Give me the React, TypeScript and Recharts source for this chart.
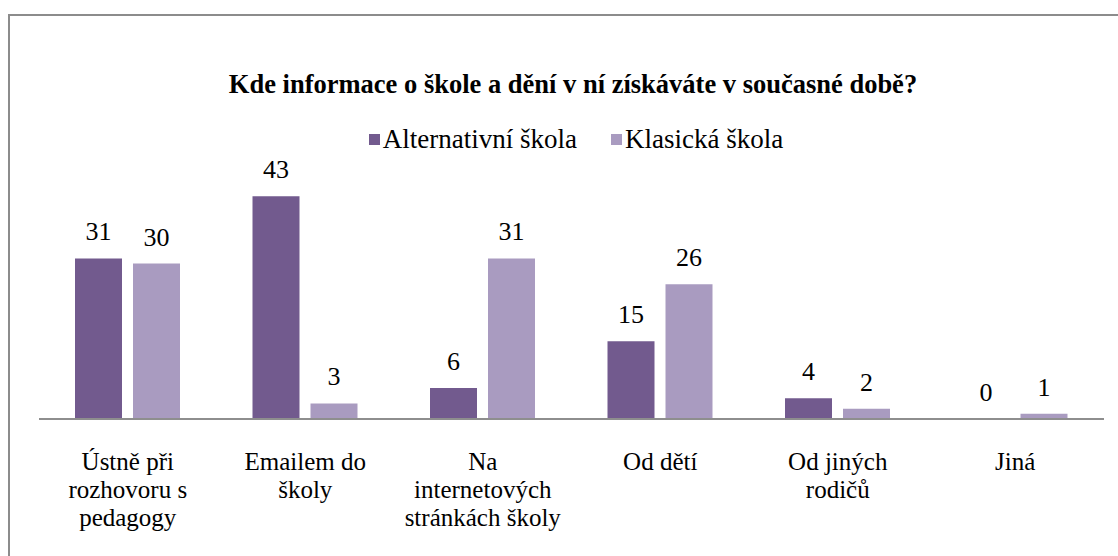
import React from 'react'
import { Bar, BarChart, LabelList, XAxis, YAxis } from 'recharts'

const categories = [
  'Ústně při\nrozhovoru s\npedagogy',
  'Emailem do\nškoly',
  'Na\ninternetových\nstránkách školy',
  'Od dětí',
  'Od jiných\nrodičů',
  'Jiná',
]
const alternativni = [31, 43, 6, 15, 4, 0]
const klasicka = [30, 3, 31, 26, 2, 1]

const seriesNames = ['Alternativní škola', 'Klasická škola']
const colors = ['#725a8e', '#a99bc0']

const data = categories.map((name, i) => ({
  name,
  alt: alternativni[i],
  kla: klasicka[i],
}))

const font = '"Liberation Serif", serif'

const CategoryTick = (props: any) => {
  const { x, y, payload } = props
  const lines: string[] = String(payload.value).split('\n')
  return (
    <g transform={`translate(${x},${y})`}>
      {lines.map((l, i) => (
        <text key={i} x={0} y={43 + i * 28} textAnchor='middle' fill='#000' fontSize={25} fontFamily={font}>
          {l}
        </text>
      ))}
    </g>
  )
}

const App = () => {
  return (
    <div style={{ position: 'absolute', left: 0, top: 0, width: 1118, height: 556, background: '#fff', overflow: 'hidden', fontFamily: font }}>
      <div style={{ position: 'absolute', left: 8, top: 14, width: 1130, height: 600, border: '2px solid #8c8c8c', boxSizing: 'border-box' }} />
      <div style={{ position: 'absolute', left: 0, width: 1146, top: 68, lineHeight: '32px', textAlign: 'center', fontWeight: 'bold', fontSize: 26.5, color: '#000' }}>
        Kde informace o škole a dění v ní získáváte v současné době?
      </div>
      <div style={{ position: 'absolute', left: 0, width: 1152, top: 123, lineHeight: '32px', display: 'flex', justifyContent: 'center', fontSize: 27, color: '#000' }}>
        {seriesNames.map((s, i) => (
          <div key={s} style={{ display: 'flex', alignItems: 'center', marginRight: i === 0 ? 34 : 0 }}>
            <span style={{ display: 'inline-block', width: 11, height: 11, background: colors[i], marginRight: 3 }} />
            <span>{s}</span>
          </div>
        ))}
      </div>
      <div style={{ position: 'absolute', left: 0, top: 0 }}>
        <BarChart
          width={1118}
          height={556}
          data={data}
          margin={{ top: 160, right: 14, left: 39, bottom: 37 }}
          barCategoryGap={36}
          barGap={11}
          barSize={47}
        >
          <XAxis
            dataKey='name'
            axisLine={{ stroke: '#8e8e8e', strokeWidth: 2 }}
            tickLine={false}
            height={100}
            interval={0}
            tick={<CategoryTick />}
          />
          <YAxis hide domain={[0, 50]} />
          <Bar dataKey='alt' name={seriesNames[0]} fill={colors[0]} minPointSize={0.01} isAnimationActive={false}>
            <LabelList dataKey='alt' position='top' offset={18} fill='#000' fontSize={26} fontFamily={font} />
          </Bar>
          <Bar dataKey='kla' name={seriesNames[1]} fill={colors[1]} minPointSize={0.01} isAnimationActive={false}>
            <LabelList dataKey='kla' position='top' offset={18} fill='#000' fontSize={26} fontFamily={font} />
          </Bar>
        </BarChart>
      </div>
    </div>
  )
}

export default App
